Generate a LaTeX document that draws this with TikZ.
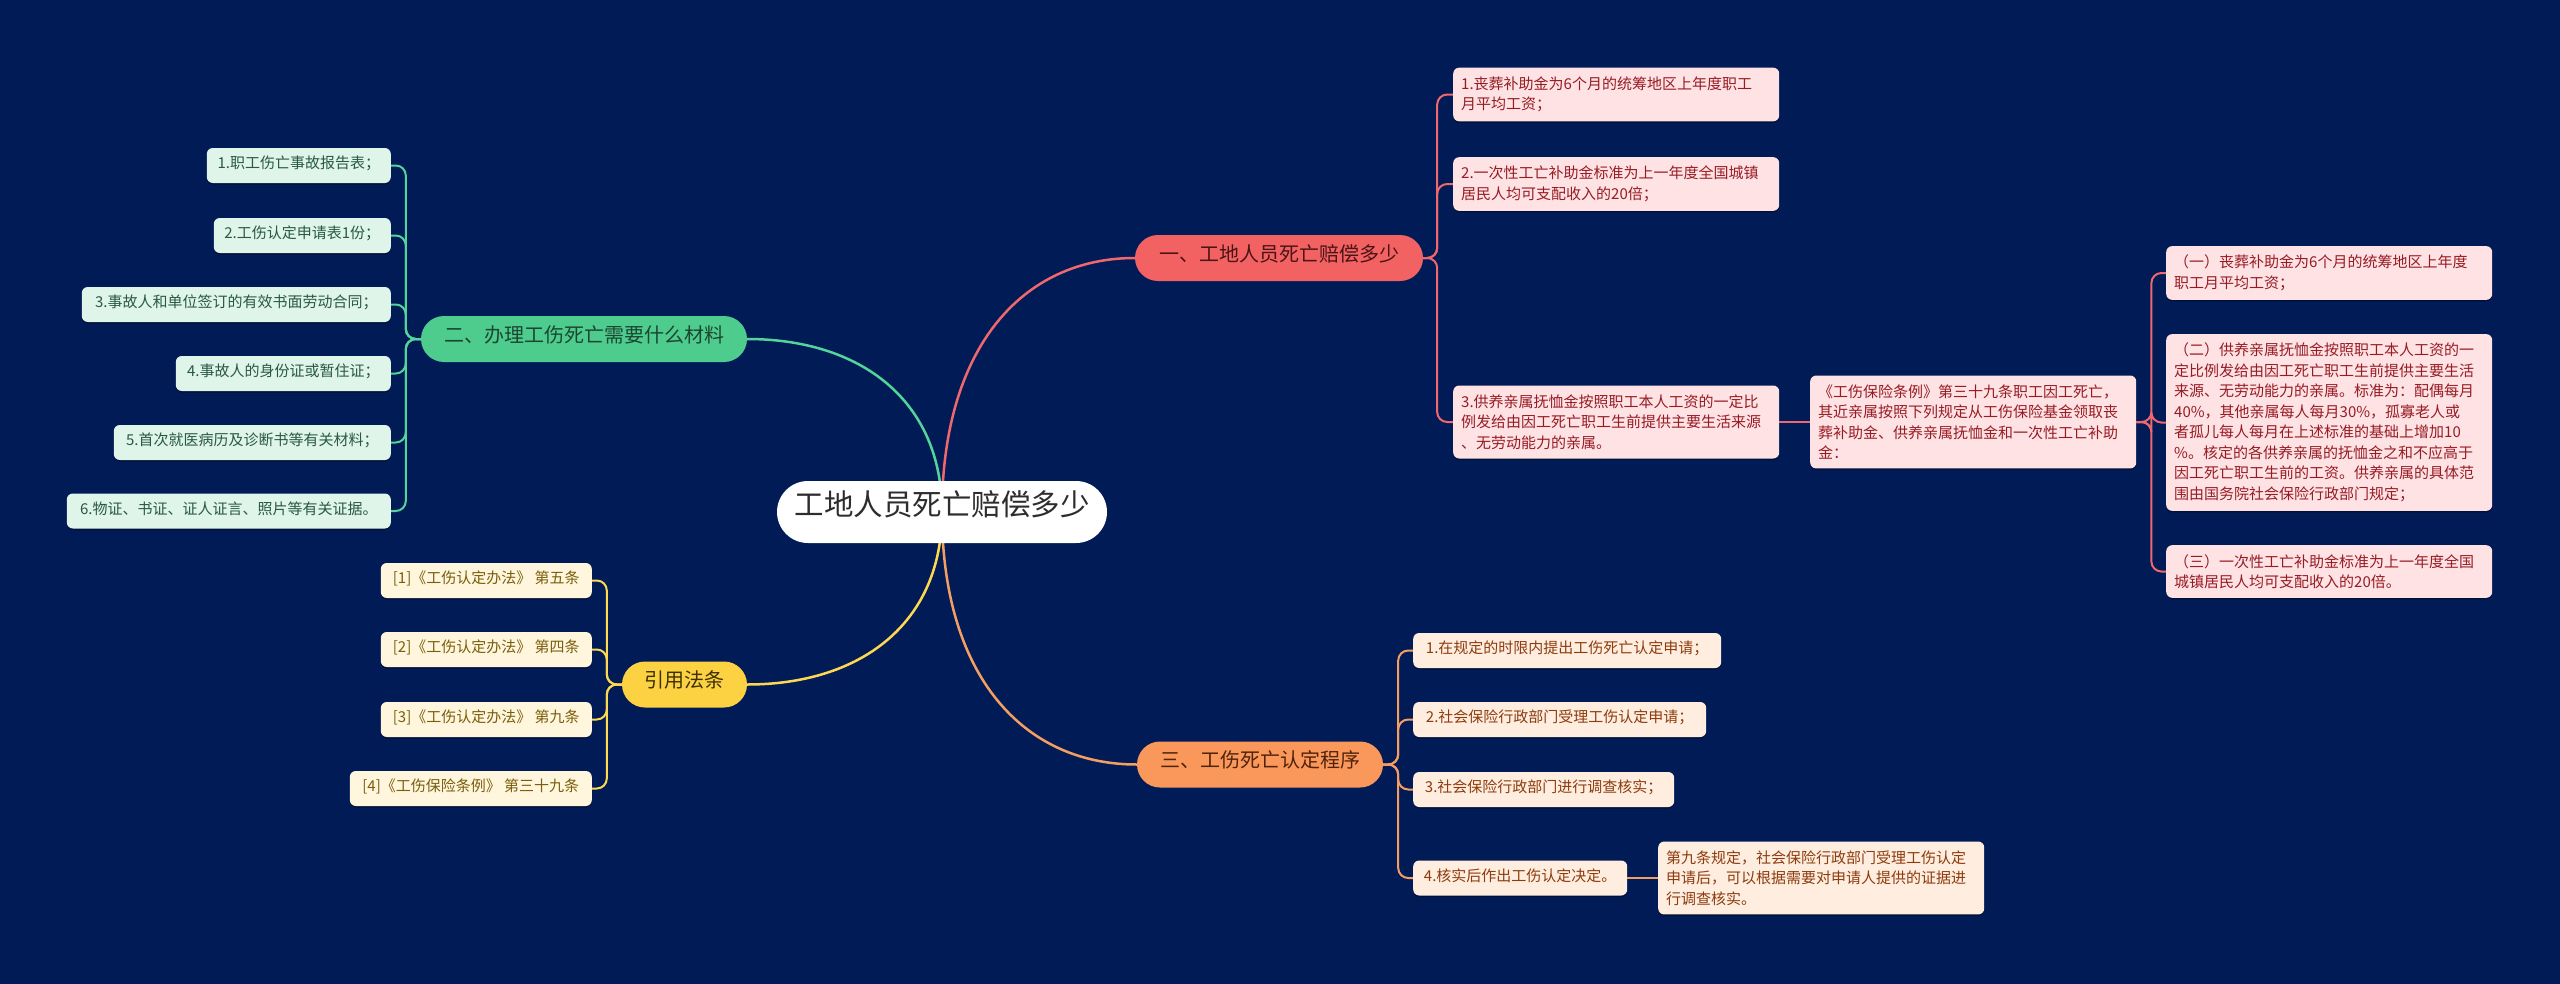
\documentclass[tikz,border=0pt]{standalone}
\usepackage{fontspec}
\setmainfont{Noto Sans CJK SC}
\usetikzlibrary{shadows}
\definecolor{bgNavy}{RGB}{1,27,87}
\definecolor{rootText}{RGB}{45,45,45}
\definecolor{redMain}{RGB}{243,98,98}
\definecolor{redLine}{RGB}{240,104,110}
\definecolor{redDark}{RGB}{75,20,22}
\definecolor{redFill}{RGB}{255,226,228}
\definecolor{redText}{RGB}{150,28,36}
\definecolor{greenMain}{RGB}{77,204,141}
\definecolor{greenLine}{RGB}{82,212,154}
\definecolor{greenDark}{RGB}{28,70,50}
\definecolor{greenFill}{RGB}{223,245,234}
\definecolor{greenText}{RGB}{42,88,68}
\definecolor{yellowMain}{RGB}{253,210,66}
\definecolor{yellowLine}{RGB}{253,216,80}
\definecolor{yellowDark}{RGB}{60,48,5}
\definecolor{yellowFill}{RGB}{255,246,221}
\definecolor{yellowText}{RGB}{122,94,12}
\definecolor{orangeMain}{RGB}{250,152,92}
\definecolor{orangeLine}{RGB}{245,158,98}
\definecolor{orangeDark}{RGB}{80,35,10}
\definecolor{orangeFill}{RGB}{255,237,223}
\definecolor{orangeText}{RGB}{140,60,14}
\pgfdeclarelayer{back}
\pgfdeclarelayer{lines}
\pgfsetlayers{back,lines,main}
\tikzset{
  rootnode/.style={fill=white, text=rootText, font=\fontsize{29.5}{32}\selectfont,
    minimum height=62pt, minimum width=330pt, rounded corners=31pt, inner sep=0pt,
    text height=0.84em, text depth=0.16em},
  branch/.style={minimum height=46pt, rounded corners=23pt, inner sep=0pt,
    font=\fontsize{20}{24}\selectfont, text height=0.84em, text depth=0.16em},
  leaf/.style={rounded corners=6pt, font=\fontsize{15}{20.5}\selectfont, inner xsep=10pt,
    inner ysep=0pt, minimum height=35pt, text height=0.84em, text depth=0.16em,
    drop shadow={shadow xshift=0pt, shadow yshift=-1.5pt, fill=black, opacity=0.35}},
  mleaf/.style={rounded corners=6pt, font=\fontsize{15}{20.5}\selectfont, text width=310pt,
    align=left, inner xsep=8pt, inner ysep=9pt,
    drop shadow={shadow xshift=0pt, shadow yshift=-1.5pt, fill=black, opacity=0.35}},
  redleaf/.style={fill=redFill, text=redText},
  greenleaf/.style={fill=greenFill, text=greenText},
  yellowleaf/.style={fill=yellowFill, text=yellowText},
  orangeleaf/.style={fill=orangeFill, text=orangeText},
  mainline/.style={line width=2.5pt},
  subline/.style={line width=2pt, rounded corners=10pt},
}
\begin{document}
\begin{tikzpicture}[x=1pt, y=-1pt]
\useasboundingbox (0,0) rectangle (2560,983);
\begin{pgfonlayer}{back}
\fill[bgNavy, overlay] (-20,-20) rectangle (2580,1003);
\end{pgfonlayer}

% root and branches
\node[rootnode] (root) at (942,512) {工地人员死亡赔偿多少};
\node[branch, fill=redMain, text=redDark, minimum width=288pt] (b1) at (1279,258) {一、工地人员死亡赔偿多少};
\node[branch, fill=greenMain, text=greenDark, minimum width=326pt] (b2) at (584,339) {二、办理工伤死亡需要什么材料};
\node[branch, fill=yellowMain, text=yellowDark, minimum width=125pt] (b3) at (684.5,684.5) {引用法条};
\node[branch, fill=orangeMain, text=orangeDark, minimum width=246pt] (b4) at (1260,764.5) {三、工伤死亡认定程序};

% red children
\node[mleaf, redleaf, anchor=west] (r1) at (1453,94.5) {1.丧葬补助金为6个月的统筹地区上年度职工\\月平均工资；};
\node[mleaf, redleaf, anchor=west] (r2) at (1453,184) {2.一次性工亡补助金标准为上一年度全国城镇\\居民人均可支配收入的20倍；};
\node[mleaf, redleaf, anchor=west] (r3) at (1453,422) {3.供养亲属抚恤金按照职工本人工资的一定比\\例发给由因工死亡职工生前提供主要生活来源\\、无劳动能力的亲属。};
\node[mleaf, redleaf, anchor=west] (r3a) at (1810,422) {《工伤保险条例》第三十九条职工因工死亡，\\其近亲属按照下列规定从工伤保险基金领取丧\\葬补助金、供养亲属抚恤金和一次性工亡补助\\金：};
\node[mleaf, redleaf, anchor=west] (g1) at (2166,273) {（一）丧葬补助金为6个月的统筹地区上年度\\职工月平均工资；};
\node[mleaf, redleaf, anchor=west] (g2) at (2166,422.5) {（二）供养亲属抚恤金按照职工本人工资的一\\定比例发给由因工死亡职工生前提供主要生活\\来源、无劳动能力的亲属。标准为：配偶每月\\40\%，其他亲属每人每月30\%，孤寡老人或\\者孤儿每人每月在上述标准的基础上增加10\\\%。核定的各供养亲属的抚恤金之和不应高于\\因工死亡职工生前的工资。供养亲属的具体范\\围由国务院社会保险行政部门规定；};
\node[mleaf, redleaf, anchor=west] (g3) at (2166,571.5) {（三）一次性工亡补助金标准为上一年度全国\\城镇居民人均可支配收入的20倍。};

% green children
\node[leaf, greenleaf, anchor=east, minimum width=184pt] (m1) at (391,165.5) {1.职工伤亡事故报告表；};
\node[leaf, greenleaf, anchor=east, minimum width=177pt] (m2) at (391,235.5) {2.工伤认定申请表1份；};
\node[leaf, greenleaf, anchor=east, minimum width=309pt] (m3) at (391,304.5) {3.事故人和单位签订的有效书面劳动合同；};
\node[leaf, greenleaf, anchor=east, minimum width=215pt] (m4) at (391,373.5) {4.事故人的身份证或暂住证；};
\node[leaf, greenleaf, anchor=east, minimum width=277pt] (m5) at (391,442.5) {5.首次就医病历及诊断书等有关材料；};
\node[leaf, greenleaf, anchor=east, minimum width=324pt] (m6) at (391,511) {6.物证、书证、证人证言、照片等有关证据。};

% yellow children
\node[leaf, yellowleaf, anchor=east, minimum width=211pt] (y1) at (592,580.5) {[1]《工伤认定办法》 第五条};
\node[leaf, yellowleaf, anchor=east, minimum width=211pt] (y2) at (592,649.5) {[2]《工伤认定办法》 第四条};
\node[leaf, yellowleaf, anchor=east, minimum width=211pt] (y3) at (592,719.5) {[3]《工伤认定办法》 第九条};
\node[leaf, yellowleaf, anchor=east, minimum width=242pt] (y4) at (592,788.5) {[4]《工伤保险条例》 第三十九条};

% orange children
\node[leaf, orangeleaf, anchor=west, minimum width=308pt] (o1) at (1413,650.5) {1.在规定的时限内提出工伤死亡认定申请；};
\node[leaf, orangeleaf, anchor=west, minimum width=293pt] (o2) at (1413,719.5) {2.社会保险行政部门受理工伤认定申请；};
\node[leaf, orangeleaf, anchor=west, minimum width=261pt] (o3) at (1413,789.5) {3.社会保险行政部门进行调查核实；};
\node[leaf, orangeleaf, anchor=west, minimum width=214pt] (o4) at (1413,878) {4.核实后作出工伤认定决定。};
\node[mleaf, orangeleaf, anchor=west] (o4a) at (1658,878) {第九条规定，社会保险行政部门受理工伤认定\\申请后，可以根据需要对申请人提供的证据进\\行调查核实。};

\begin{pgfonlayer}{lines}
% root to branches
\draw[mainline, redLine] (root.center) .. controls +(0,-165) and +(-112,0) .. (b1.west);
\draw[mainline, greenLine] (root.center) .. controls +(0,-112) and +(113,0) .. (b2.east);
\draw[mainline, yellowLine] (root.center) .. controls +(0,112) and +(113,0) .. (b3.east);
\draw[mainline, orangeLine] (root.center) .. controls +(0,164.5) and +(-113,0) .. (b4.west);
% red
\draw[subline, redLine] (b1.east) -- ++(14,0) |- (r1.west);
\draw[subline, redLine] (b1.east) -- ++(14,0) |- (r2.west);
\draw[subline, redLine] (b1.east) -- ++(14,0) |- (r3.west);
\draw[subline, redLine] (r3.east) -- (r3a.west);
\draw[subline, redLine] (r3a.east) -- ++(15,0) |- (g1.west);
\draw[subline, redLine] (r3a.east) -- ++(15,0) |- (g2.west);
\draw[subline, redLine] (r3a.east) -- ++(15,0) |- (g3.west);
% green
\draw[subline, greenLine] (b2.west) -- ++(-15,0) |- (m1.east);
\draw[subline, greenLine] (b2.west) -- ++(-15,0) |- (m2.east);
\draw[subline, greenLine] (b2.west) -- ++(-15,0) |- (m3.east);
\draw[subline, greenLine] (b2.west) -- ++(-15,0) |- (m4.east);
\draw[subline, greenLine] (b2.west) -- ++(-15,0) |- (m5.east);
\draw[subline, greenLine] (b2.west) -- ++(-15,0) |- (m6.east);
% yellow
\draw[subline, yellowLine] (b3.west) -- ++(-15,0) |- (y1.east);
\draw[subline, yellowLine] (b3.west) -- ++(-15,0) |- (y2.east);
\draw[subline, yellowLine] (b3.west) -- ++(-15,0) |- (y3.east);
\draw[subline, yellowLine] (b3.west) -- ++(-15,0) |- (y4.east);
% orange
\draw[subline, orangeLine] (b4.east) -- ++(15,0) |- (o1.west);
\draw[subline, orangeLine] (b4.east) -- ++(15,0) |- (o2.west);
\draw[subline, orangeLine] (b4.east) -- ++(15,0) |- (o3.west);
\draw[subline, orangeLine] (b4.east) -- ++(15,0) |- (o4.west);
\draw[subline, orangeLine] (o4.east) -- (o4a.west);
\end{pgfonlayer}
\end{tikzpicture}
\end{document}
